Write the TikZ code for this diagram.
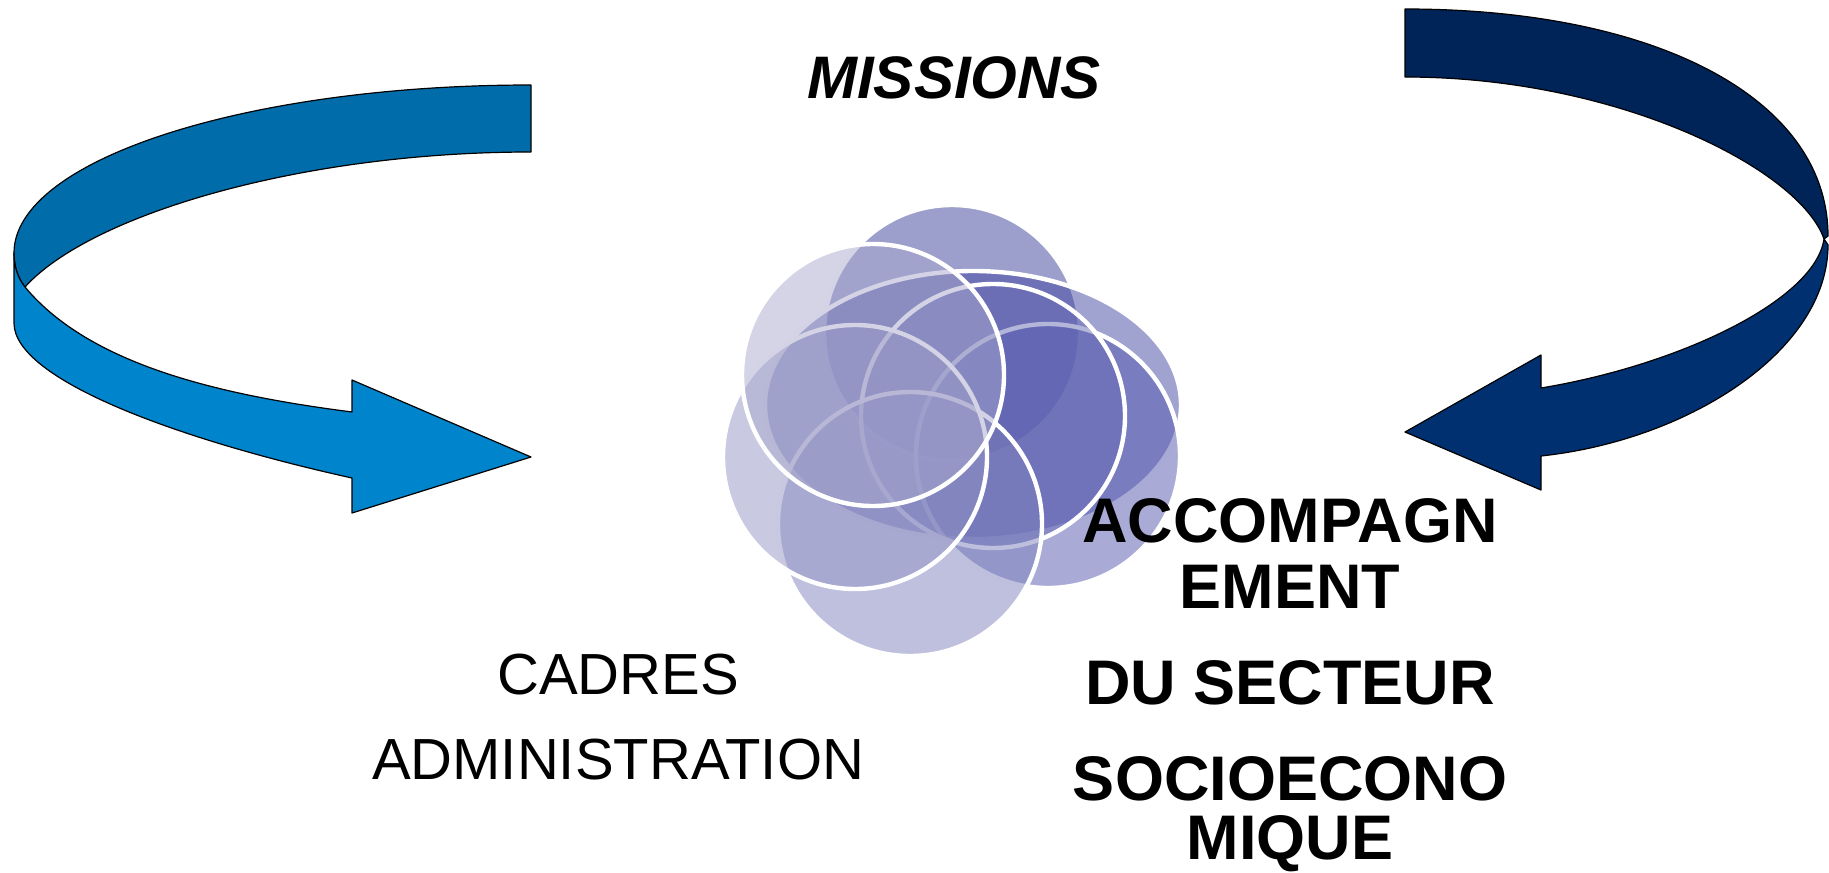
\documentclass[tikz,border=0pt]{standalone}
\usepackage{fontspec}
\setmainfont{Liberation Sans}
\definecolor{bubT}{RGB}{57,63,153}
\definecolor{bubG}{RGB}{65,69,161}
\definecolor{bubE}{RGB}{83,87,173}
\definecolor{bubF}{RGB}{104,108,181}
\definecolor{bubD}{RGB}{125,129,189}
\definecolor{bubC}{RGB}{147,147,197}
\definecolor{bubA}{RGB}{169,169,205}
\definecolor{leftback}{RGB}{0,109,170}
\definecolor{leftfront}{RGB}{0,132,204}
\definecolor{rightback}{RGB}{0,35,88}
\definecolor{rightfront}{RGB}{0,48,112}

\begin{document}
\begin{tikzpicture}[x=0.5pt, y=-0.5pt,
    bubble/.style={fill opacity=0.5, draw=white, line width=2.2pt},
    ribbon/.style={draw=black, line width=0.6pt, line join=round},
    boldtxt/.style={anchor=base, inner sep=0pt, font=\fontsize{31.5}{32}\selectfont\bfseries},
    plaintxt/.style={anchor=base, inner sep=0pt, font=\fontsize{29}{30}\selectfont}]
  \useasboundingbox (0,0) rectangle (1829,872);

  % left ribbon arrow
  \filldraw[ribbon, fill=leftback] (531,85) .. controls (246,85) and (14,160) .. (14,253)
    .. controls (14,265) and (17,277) .. (25,287)
    .. controls (90,215) and (300,152) .. (531,152) -- cycle;
  \filldraw[ribbon, fill=leftfront] (14,253) -- (14,323)
    .. controls (14,380) and (180,440) .. (352,478)
    -- (352,513) -- (531,457) -- (352,380) -- (352,412)
    .. controls (220,395) and (90,365) .. (25,287)
    .. controls (17,277) and (14,265) .. (14,253) -- cycle;

  % right ribbon arrow
  \filldraw[ribbon, fill=rightback] (1405,9) .. controls (1659,9) and (1828,100) .. (1828,236)
    -- (1824,239) .. controls (1800,170) and (1620,77) .. (1405,77) -- cycle;
  \filldraw[ribbon, fill=rightfront] (1824,239)
    .. controls (1815,300) and (1680,365) .. (1541,388)
    -- (1541,355) -- (1405,432) -- (1541,490) -- (1541,456)
    .. controls (1690,440) and (1828,350) .. (1828,245) -- cycle;

  % cluster of bubbles
  \filldraw[bubble, fill=bubT] (952,333) circle (128);
  \filldraw[bubble, fill=bubG] (973,405) ellipse [x radius=208, y radius=134];
  \filldraw[bubble, fill=bubE] (1048,456) circle (132);
  \filldraw[bubble, fill=bubF] (993,416) circle (132);
  \filldraw[bubble, fill=bubD] (910,524) circle (132);
  \filldraw[bubble, fill=bubC] (855,457) circle (132);
  \filldraw[bubble, fill=bubA] (873,375) circle (131);

  % texts
  \node[anchor=base, inner sep=0pt, font=\fontsize{30}{36}\selectfont\bfseries\itshape]
    (missions) at (954,98) {MISSIONS};
  \node[plaintxt] (cadres) at (618,694) {CADRES};
  \node[plaintxt] (admin) at (618,779) {ADMINISTRATION};
  \node[boldtxt] (accomp) at (1290,542) {ACCOMPAGN};
  \node[boldtxt] (ement) at (1290,608) {EMENT};
  \node[boldtxt] (secteur) at (1290,704) {DU SECTEUR};
  \node[boldtxt] (socio) at (1290,800) {SOCIOECONO};
  \node[boldtxt] (mique) at (1290,859) {MIQUE};
\end{tikzpicture}
\end{document}
